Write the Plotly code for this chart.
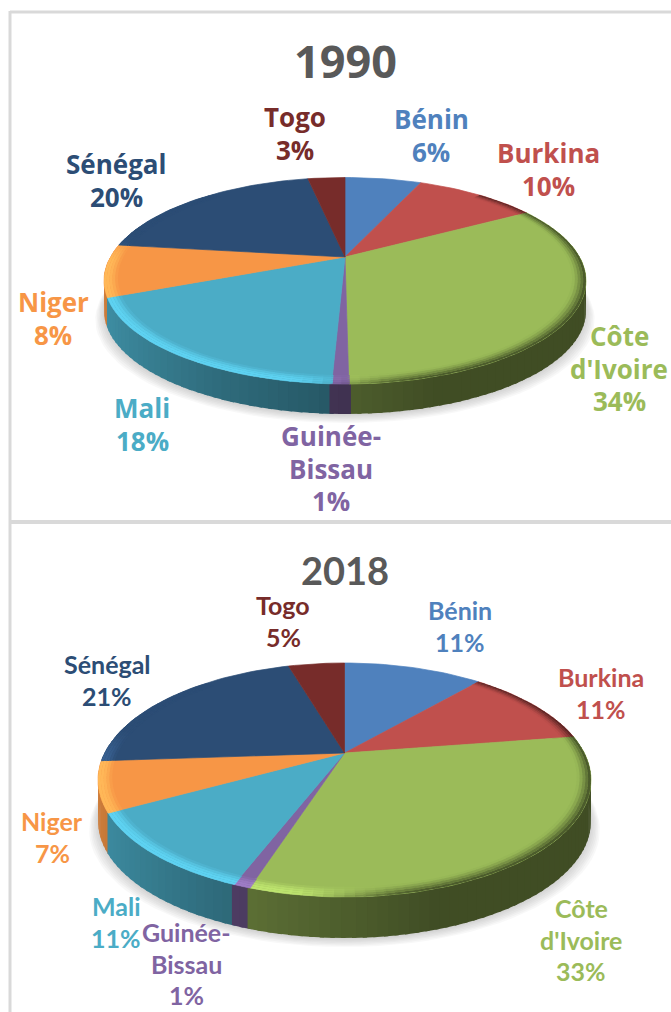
import math
import plotly.graph_objects as go

# ---- data ----
countries = ["Bénin", "Burkina", "Côte d'Ivoire", "Guinée-Bissau", "Mali", "Niger", "Sénégal", "Togo"]
label_lines = [["Bénin"], ["Burkina"], ["Côte", "d'Ivoire"], ["Guinée-", "Bissau"], ["Mali"], ["Niger"], ["Sénégal"], ["Togo"]]
shares_1990 = [6.4, 10.2, 33.2, 0.9, 18.1, 8.2, 19.9, 3.1]
shares_2018 = [11.4, 11.2, 32.4, 0.9, 11.1, 6.9, 21.5, 4.6]
printed_1990 = [6, 10, 34, 1, 18, 8, 20, 3]
printed_2018 = [11, 11, 33, 1, 11, 7, 21, 5]
colors = ["#4F81BD", "#C0504D", "#9BBB59", "#8064A2", "#4BACC6", "#F79646", "#2C4D75", "#772C2A"]

# ---- layout of each pie (pixels of the page) ----
pie_1990 = dict(cx=345, cy=257, far=79.5, near=127, rx=241, depth=30)
pie_2018 = dict(cx=344.5, cy=753, far=90, near=144, rx=246.5, depth=41)
# centre of first label line for each country
labels_1990 = dict(xs=[431, 548, 619, 331, 142, 53, 116, 295], ys=[119, 153, 336, 436, 408, 302, 164, 117], step=32.5)
labels_2018 = dict(xs=[460, 601, 581, 186, 116, 52, 107, 283], ys=[610, 677, 908, 932, 906, 821, 664, 605], step=31.7)

BAND_IN = 0.945
BAND_LEVELS = 5
SEG_DEG = 2.0
OVERLAP = math.radians(0.4)


def hex2rgb(c):
    return tuple(int(c[i:i + 2], 16) for i in (1, 3, 5))


def mix(a, b, t):
    return tuple(a[i] + (b[i] - a[i]) * t for i in range(3))


def css(c):
    return "rgb(%d,%d,%d)" % tuple(max(0, min(255, round(x))) for x in c)


def sstep(a, b, x):
    t = max(0.0, min(1.0, (x - a) / (b - a)))
    return t * t * (3 - 2 * t)


def wall_shade(u):
    pts = [(-1.0, 0.85), (-0.4, 0.62), (0.0, 0.50), (0.3, 0.41), (1.0, 0.41)]
    for (a, fa), (b, fb) in zip(pts, pts[1:]):
        if u <= b:
            return fa + (fb - fa) * (u - a) / (b - a)
    return 0.41


def add_poly(fig, xs, ys, color, lw=0.7):
    fig.add_trace(go.Scatter(
        x=xs + xs[:1], y=ys + ys[:1], mode="lines", fill="toself", fillcolor=color,
        line=dict(color=color, width=lw), hoverinfo="skip", showlegend=False))


def draw_pie(fig, shares, printed, p, labels, title, title_y, title_size, font, size):
    k = (p["near"] - p["far"]) / (p["near"] + p["far"])
    B = p["far"] * (1 + k)
    A = p["rx"] * math.sqrt(1 - k * k)

    def proj(theta, r=1.0):
        u, v = r * math.sin(theta), -r * math.cos(theta)
        den = 1 - k * v
        return p["cx"] + A * u / den, p["cy"] + B * v / den

    total = sum(shares)
    spans, acc = [], 0.0
    for s in shares:
        spans.append((2 * math.pi * acc / total, 2 * math.pi * (acc + s) / total))
        acc += s

    def arc(a0, a1):
        n = max(1, int(math.ceil(math.degrees(a1 - a0) / SEG_DEG)))
        return [a0 + (a1 - a0) * i / n for i in range(n + 1)]

    # soft shadow under the wall
    ring = [2 * math.pi * i / 120 for i in range(120)]
    for i in range(7):
        grow = 1.0 + 0.006 * (6 - i)
        off = p["depth"] + 9 - i * 1.3
        xs, ys = [], []
        for t in ring:
            x, y = proj(t)
            xs.append(p["cx"] + (x - p["cx"]) * grow)
            ys.append(y + off)
        fig.add_trace(go.Scatter(x=xs, y=ys, mode="lines", fill="toself",
                                 fillcolor="rgba(120,120,120,0.055)", line=dict(width=0),
                                 hoverinfo="skip", showlegend=False))

    # outer wall, back to front
    quads = []
    for (a0, a1), c in zip(spans, colors):
        base = hex2rgb(c)
        ts = arc(a0, a1)
        for t0, t1 in zip(ts, ts[1:]):
            tm = (t0 + t1) / 2
            if -math.cos(tm) < -0.35:
                continue
            shade = wall_shade(math.sin(tm))
            col = css(tuple(x * shade for x in base))
            x0, y0 = proj(t0 - OVERLAP)
            x1, y1 = proj(t1 + OVERLAP)
            d = p["depth"]
            quads.append((y0 + y1, [x0, x1, x1, x0], [y0, y1, y1 + d, y0 + d], col))
    for _, xs, ys, col in sorted(quads, key=lambda q: q[0]):
        add_poly(fig, xs, ys, col, 0)

    # flat top, one wedge per share
    for (a0, a1), c in zip(spans, colors):
        pts = [proj(t) for t in arc(a0, a1)]
        add_poly(fig, [p["cx"]] + [q[0] for q in pts], [p["cy"]] + [q[1] for q in pts], c)

    # rounded rim
    for (a0, a1), c in zip(spans, colors):
        base = hex2rgb(c)
        hi = tuple(min(255, x * 1.2 + 4) for x in base)
        ts = arc(a0, a1)
        for t0, t1 in zip(ts, ts[1:]):
            tm = (t0 + t1) / 2
            u, v = math.sin(tm), -math.cos(tm)
            if v < -0.75:
                continue
            lit = sstep(-0.25, 0.05, v) * (1 - sstep(-0.2, 0.25, u))
            dark = sstep(-0.2, 0.25, u)
            wall = tuple(x * wall_shade(u) for x in base)
            for j in range(BAND_LEVELS):
                r0 = BAND_IN + (1 - BAND_IN) * j / BAND_LEVELS
                r1 = BAND_IN + (1 - BAND_IN) * (j + 1) / BAND_LEVELS
                f = (j + 0.5) / BAND_LEVELS
                col = mix(base, hi, lit * math.sin(min(f * 1.25, 1.0) * math.pi / 2))
                col = mix(col, wall, dark * f ** 1.4)
                q = [proj(t0 - OVERLAP / 2, r0), proj(t1 + OVERLAP / 2, r0), proj(t1 + OVERLAP / 2, r1), proj(t0 - OVERLAP / 2, r1)]
                add_poly(fig, [a[0] for a in q], [a[1] for a in q], css(col), 0)

    # labels
    for lines, s, c, x, y in zip(label_lines, printed, colors, labels["xs"], labels["ys"]):
        for i, line in enumerate(lines + ["%d%%" % s]):
            fig.add_annotation(x=x, y=y + i * labels["step"], text=line, showarrow=False,
                               xanchor="center", yanchor="middle",
                               font=dict(family=font, size=size, color=c, weight="bold"))
    fig.add_annotation(x=p["cx"], y=title_y, text=title, showarrow=False, xanchor="center", yanchor="middle",
                       font=dict(family=font, size=title_size, color="#595959", weight="bold"))


fig = go.Figure()
draw_pie(fig, shares_1990, printed_1990, pie_1990, labels_1990, "1990", 60, 45, "Open Sans", 26)
draw_pie(fig, shares_2018, printed_2018, pie_2018, labels_2018, "2018", 570, 38, "Lato", 25)

border = dict(color="#D9D9D9", width=3)
fig.update_layout(
    width=671, height=1012, margin=dict(l=0, r=0, t=0, b=0),
    paper_bgcolor="white", plot_bgcolor="white", showlegend=False,
    xaxis=dict(range=[0, 671], visible=False, fixedrange=True),
    yaxis=dict(range=[1012, 0], visible=False, fixedrange=True),
    shapes=[
        dict(type="line", x0=10, x1=10, y0=11, y1=1012, line=border),
        dict(type="line", x0=10, x1=671, y0=12, y1=12, line=border),
        dict(type="line", x0=10, x1=671, y0=522, y1=522, line=dict(color="#D9D9D9", width=4)),
    ],
)
fig.write_html("out.html", post_script="document.body.style.margin='0';", config={"displayModeBar": False})
